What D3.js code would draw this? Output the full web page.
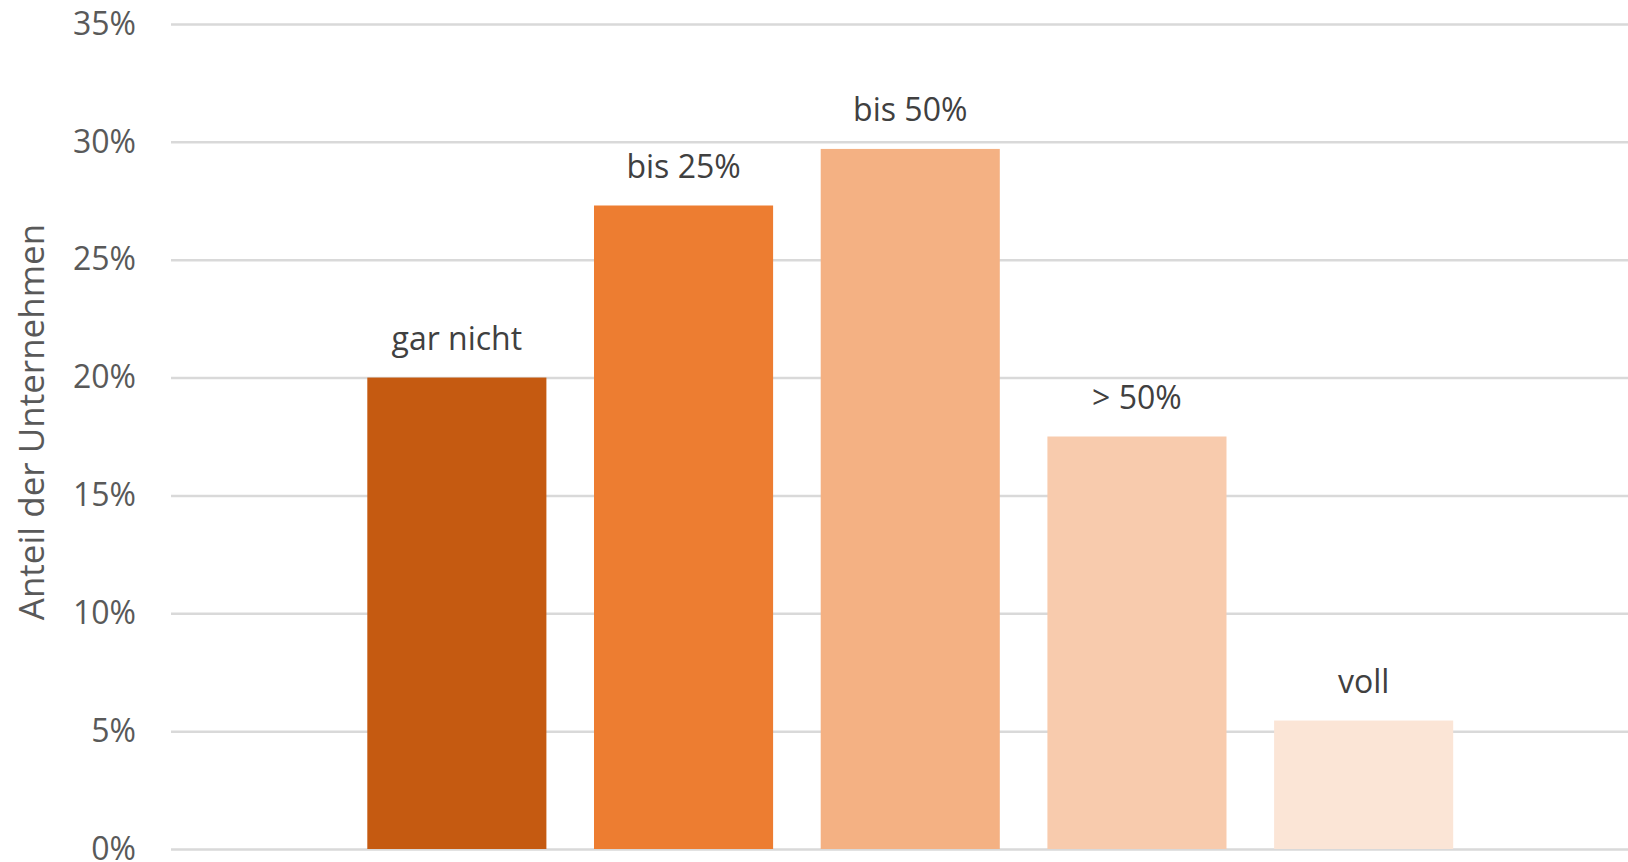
<!DOCTYPE html>
<html>
<head>
<meta charset="utf-8">
<script src="https://cdn.jsdelivr.net/npm/d3@7"></script>
<style>
  html, body { margin: 0; padding: 0; background: #fff; }
  svg { display: block; font-family: "Open Sans", sans-serif; }
</style>
</head>
<body>
<svg id="chart"></svg>
<script>
const categories = ["gar nicht", "bis 25%", "bis 50%", "> 50%", "voll"];
const values = [20.0, 27.3, 29.7, 17.5, 5.45];
const barColors = ["#C55A11", "#ED7D31", "#F4B183", "#F8CBAD", "#FBE5D6"];
const yTicks = [0, 5, 10, 15, 20, 25, 30, 35];

const width = 1628;
const height = 862;
const plot = { left: 171, right: 1628, top: 24, bottom: 849 };

const svg = d3.select("#chart")
  .attr("width", width)
  .attr("height", height)
  .attr("viewBox", [0, 0, width, height]);

const yScale = d3.scaleLinear()
  .domain([0, 35])
  .range([plot.bottom, plot.top]);

const xScale = d3.scaleBand()
  .domain(categories)
  .range([343.5, 1477])
  .paddingInner(0.21)
  .paddingOuter(0.105);

// gridlines + tick labels
const yAxis = d3.axisLeft(yScale)
  .tickValues(yTicks)
  .tickSize(-(plot.right - plot.left))
  .tickPadding(35)
  .tickFormat(d => d + "%");

const gy = svg.append("g")
  .attr("class", "y-axis")
  .attr("transform", `translate(${plot.left},0)`)
  .call(yAxis);

gy.select(".domain").remove();
gy.selectAll("line")
  .attr("stroke", "#D9D9D9")
  .attr("stroke-width", 2.5);
gy.selectAll("text")
  .attr("fill", "#595959")
  .attr("font-size", 32)
  .attr("font-family", "Open Sans, sans-serif");

// bars
svg.append("g").attr("class", "bars")
  .selectAll("rect")
  .data(values)
  .join("rect")
  .attr("x", (d, i) => xScale(categories[i]))
  .attr("y", d => yScale(d))
  .attr("width", xScale.bandwidth())
  .attr("height", d => yScale(0) - yScale(d))
  .attr("fill", (d, i) => barColors[i]);

// category labels above the bars
svg.append("g").attr("class", "labels")
  .selectAll("text")
  .data(values)
  .join("text")
  .attr("x", (d, i) => xScale(categories[i]) + xScale.bandwidth() / 2)
  .attr("y", d => yScale(d) - 28)
  .attr("text-anchor", "middle")
  .attr("font-size", 32)
  .attr("fill", "#404040")
  .text((d, i) => categories[i]);

// axis title
svg.append("text")
  .attr("transform", "rotate(-90)")
  .attr("x", -422)
  .attr("y", 44)
  .attr("text-anchor", "middle")
  .attr("font-size", 35)
  .attr("fill", "#595959")
  .text("Anteil der Unternehmen");
</script>
</body>
</html>
